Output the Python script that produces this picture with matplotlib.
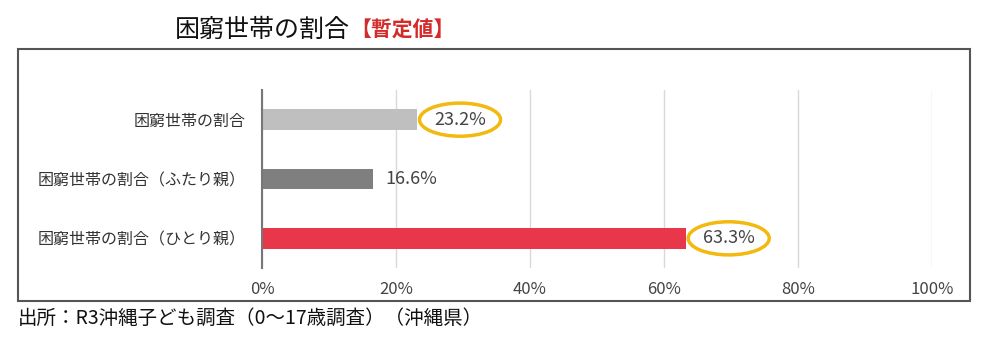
import matplotlib
matplotlib.use("Agg")
import matplotlib.pyplot as plt
from matplotlib.patches import Rectangle

plt.rcParams['font.family'] = ['Noto Sans CJK JP', 'DejaVu Sans']

categories = ["困窮世帯の割合", "困窮世帯の割合（ふたり親）", "困窮世帯の割合（ひとり親）"]
values = [23.2, 16.6, 63.3]
bar_colors = ["#bfbfbf", "#7f7f7f", "#e8364a"]
circled = [True, False, True]
xticks = [0, 20, 40, 60, 80, 100]

fig = plt.figure(figsize=(9.84, 3.46), dpi=100)
ax = fig.add_axes([262 / 984, 1 - 268 / 346, 670 / 984, 178 / 346])

y = range(len(categories))
ax.barh(y, values, height=0.35, color=bar_colors, zorder=3)
ax.set_ylim(2.5, -0.5)
ax.set_xlim(0, 100)
ax.set_xticks(xticks)
ax.set_xticklabels([f"{t}%" for t in xticks], fontsize=12, color="#444444")
ax.set_yticks(list(y))
ax.set_yticklabels(categories, fontsize=11.5, color="#333333")
ax.tick_params(length=0)
ax.tick_params(axis='x', pad=9)
ax.tick_params(axis='y', pad=12)
ax.grid(axis='x', color="#d9d9d9", lw=1, zorder=0)
for s in ["top", "right", "bottom"]:
    ax.spines[s].set_visible(False)
ax.spines["left"].set_color("#777777")
ax.spines["left"].set_linewidth(1.5)
ax.spines["left"].set_zorder(4)

# 数値ラベル（一部は黄色の楕円で囲む）
for i, (v, c) in enumerate(zip(values, circled)):
    kw = {}
    if c:
        kw["bbox"] = dict(boxstyle="ellipse,pad=0.15", fc="white", ec="#f2b90f", lw=2.5)
    ax.annotate(f"{v}%", (v, i), xytext=(12 if c else 9, 0), textcoords="offset points",
                va="center", ha="left", fontsize=13, color="#444444", zorder=5, **kw)

# 枠
fig.patches.append(Rectangle((18 / 984, 1 - 301 / 346), 952 / 984, 252 / 346,
                             transform=fig.transFigure, fill=False, ec="#555555", lw=1.5))

t1 = fig.text(175 / 984, 1 - 30 / 346, "困窮世帯の割合", fontsize=18, color="#111111", va="center")
fig.add_artist(plt.Annotation("【暫定値】", xy=(1, 0.5), xycoords=t1, xytext=(0, 0),
                              textcoords="offset points", fontsize=15, color="#d42a2a",
                              fontweight="bold", va="center", ha="left"))
fig.text(18 / 984, 1 - 318 / 346, "出所：R3沖縄子ども調査（0～17歳調査）（沖縄県）",
         fontsize=14, color="#111111", va="center")

fig.savefig("out.png", dpi=100)
